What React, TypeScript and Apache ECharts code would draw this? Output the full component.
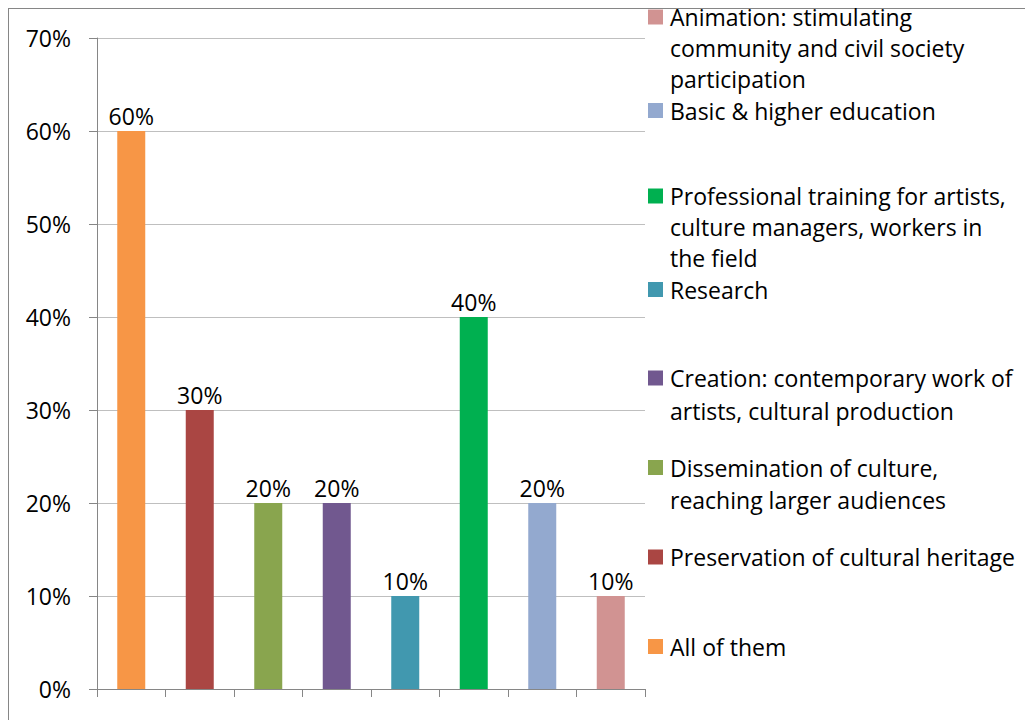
import React, { useEffect, useRef } from "react";
import * as echarts from "echarts";

const categories = [
  "All of them",
  "Preservation of cultural heritage",
  "Dissemination of culture, reaching larger audiences",
  "Creation: contemporary work of artists, cultural production",
  "Research",
  "Professional training for artists, culture managers, workers in the field",
  "Basic & higher education",
  "Animation: stimulating community and civil society participation",
];
const values = [0.6, 0.3, 0.2, 0.2, 0.1, 0.4, 0.2, 0.1];
const colors = ["#F79646", "#AA4643", "#89A54E", "#71588F", "#4198AF", "#00B050", "#93A9CF", "#D19392"];
const legendLabels = [
  "All of them",
  "Preservation of cultural heritage",
  "Dissemination of culture,\nreaching larger audiences",
  "Creation: contemporary work of\nartists, cultural production",
  "Research",
  "Professional training for artists,\nculture managers, workers in\nthe field",
  "Basic & higher education",
  "Animation: stimulating\ncommunity and civil society\nparticipation",
];
const yTicks = { min: 0, max: 0.7, interval: 0.1 };

const FONT = "Open Sans";
const FS = 23;

export default function App() {
  const ref = useRef<HTMLDivElement>(null);
  useEffect(() => {
    if (!ref.current) return;
    const chart = echarts.init(ref.current, null, { renderer: "svg" });
    const n = legendLabels.length;
    const legendGraphics: any[] = [];
    let prevLines = 0;
    for (let i = 0; i < n; i++) {
      const idx = n - 1 - i; // reversed order, top = last category
      const lines = legendLabels[idx].split("\n");
      let cy = 20 + i * 89.5;
      if (lines.length >= 3) cy -= 3;
      if (prevLines >= 3) cy += 1;
      const step = lines.length >= 3 ? 31 : 32.5;
      legendGraphics.push({
        type: "rect",
        shape: { x: 648, y: cy - 7.5, width: 15, height: 15 },
        style: { fill: colors[idx] },
      });
      lines.forEach((line, k) => {
        legendGraphics.push({
          type: "text",
          x: 670,
          y: cy + k * step,
          style: {
            text: line,
            font: `${FS}px "${FONT}"`,
            fill: "#000",
            lineHeight: 23,
            verticalAlign: "middle",
            align: "left",
          },
        });
      });
      prevLines = lines.length;
    }
    chart.setOption({
      animation: false,
      backgroundColor: "#fff",
      grid: { left: 97, right: 380, top: 38, bottom: 31, containLabel: false },
      xAxis: {
        type: "category",
        data: categories,
        axisLine: { lineStyle: { color: "#868686", width: 1 } },
        axisTick: { show: true, interval: 0, length: 8, lineStyle: { color: "#868686" } },
        axisLabel: { show: false, interval: 0 },
        splitLine: { show: false },
      },
      yAxis: {
        type: "value",
        min: yTicks.min,
        max: yTicks.max,
        interval: yTicks.interval,
        axisLine: { show: true, lineStyle: { color: "#868686", width: 1 } },
        axisTick: { show: true, length: 8, lineStyle: { color: "#868686" } },
        axisLabel: {
          margin: 26,
          color: "#000",
          fontFamily: FONT,
          fontSize: FS,
          formatter: (v: number) => `${Math.round(v * 100)}%`,
        },
        splitLine: { show: true, lineStyle: { color: "#BFBFBF", width: 1 } },
      },
      series: [
        {
          type: "bar",
          barWidth: 28,
          data: values.map((v, i) => ({ value: v, itemStyle: { color: colors[i] } })),
          label: {
            show: true,
            position: "top",
            distance: 4,
            color: "#000",
            fontFamily: FONT,
            fontSize: FS,
            formatter: (p: any) => `${Math.round(p.value * 100)}%`,
          },
        },
      ],
      graphic: [
        {
          type: "line",
          shape: { x1: 8.5, y1: 8, x2: 8.5, y2: 720 },
          style: { stroke: "#868686", lineWidth: 1 },
        },
        {
          type: "line",
          shape: { x1: 8, y1: 8.5, x2: 1025, y2: 8.5 },
          style: { stroke: "#868686", lineWidth: 1 },
        },
        ...legendGraphics,
      ],
    });
    return () => chart.dispose();
  }, []);
  return (
    <div style={{ position: "fixed", left: 0, top: 0, width: 1025, height: 720, background: "#fff" }}>
      <div ref={ref} style={{ width: 1025, height: 720 }} />
    </div>
  );
}
